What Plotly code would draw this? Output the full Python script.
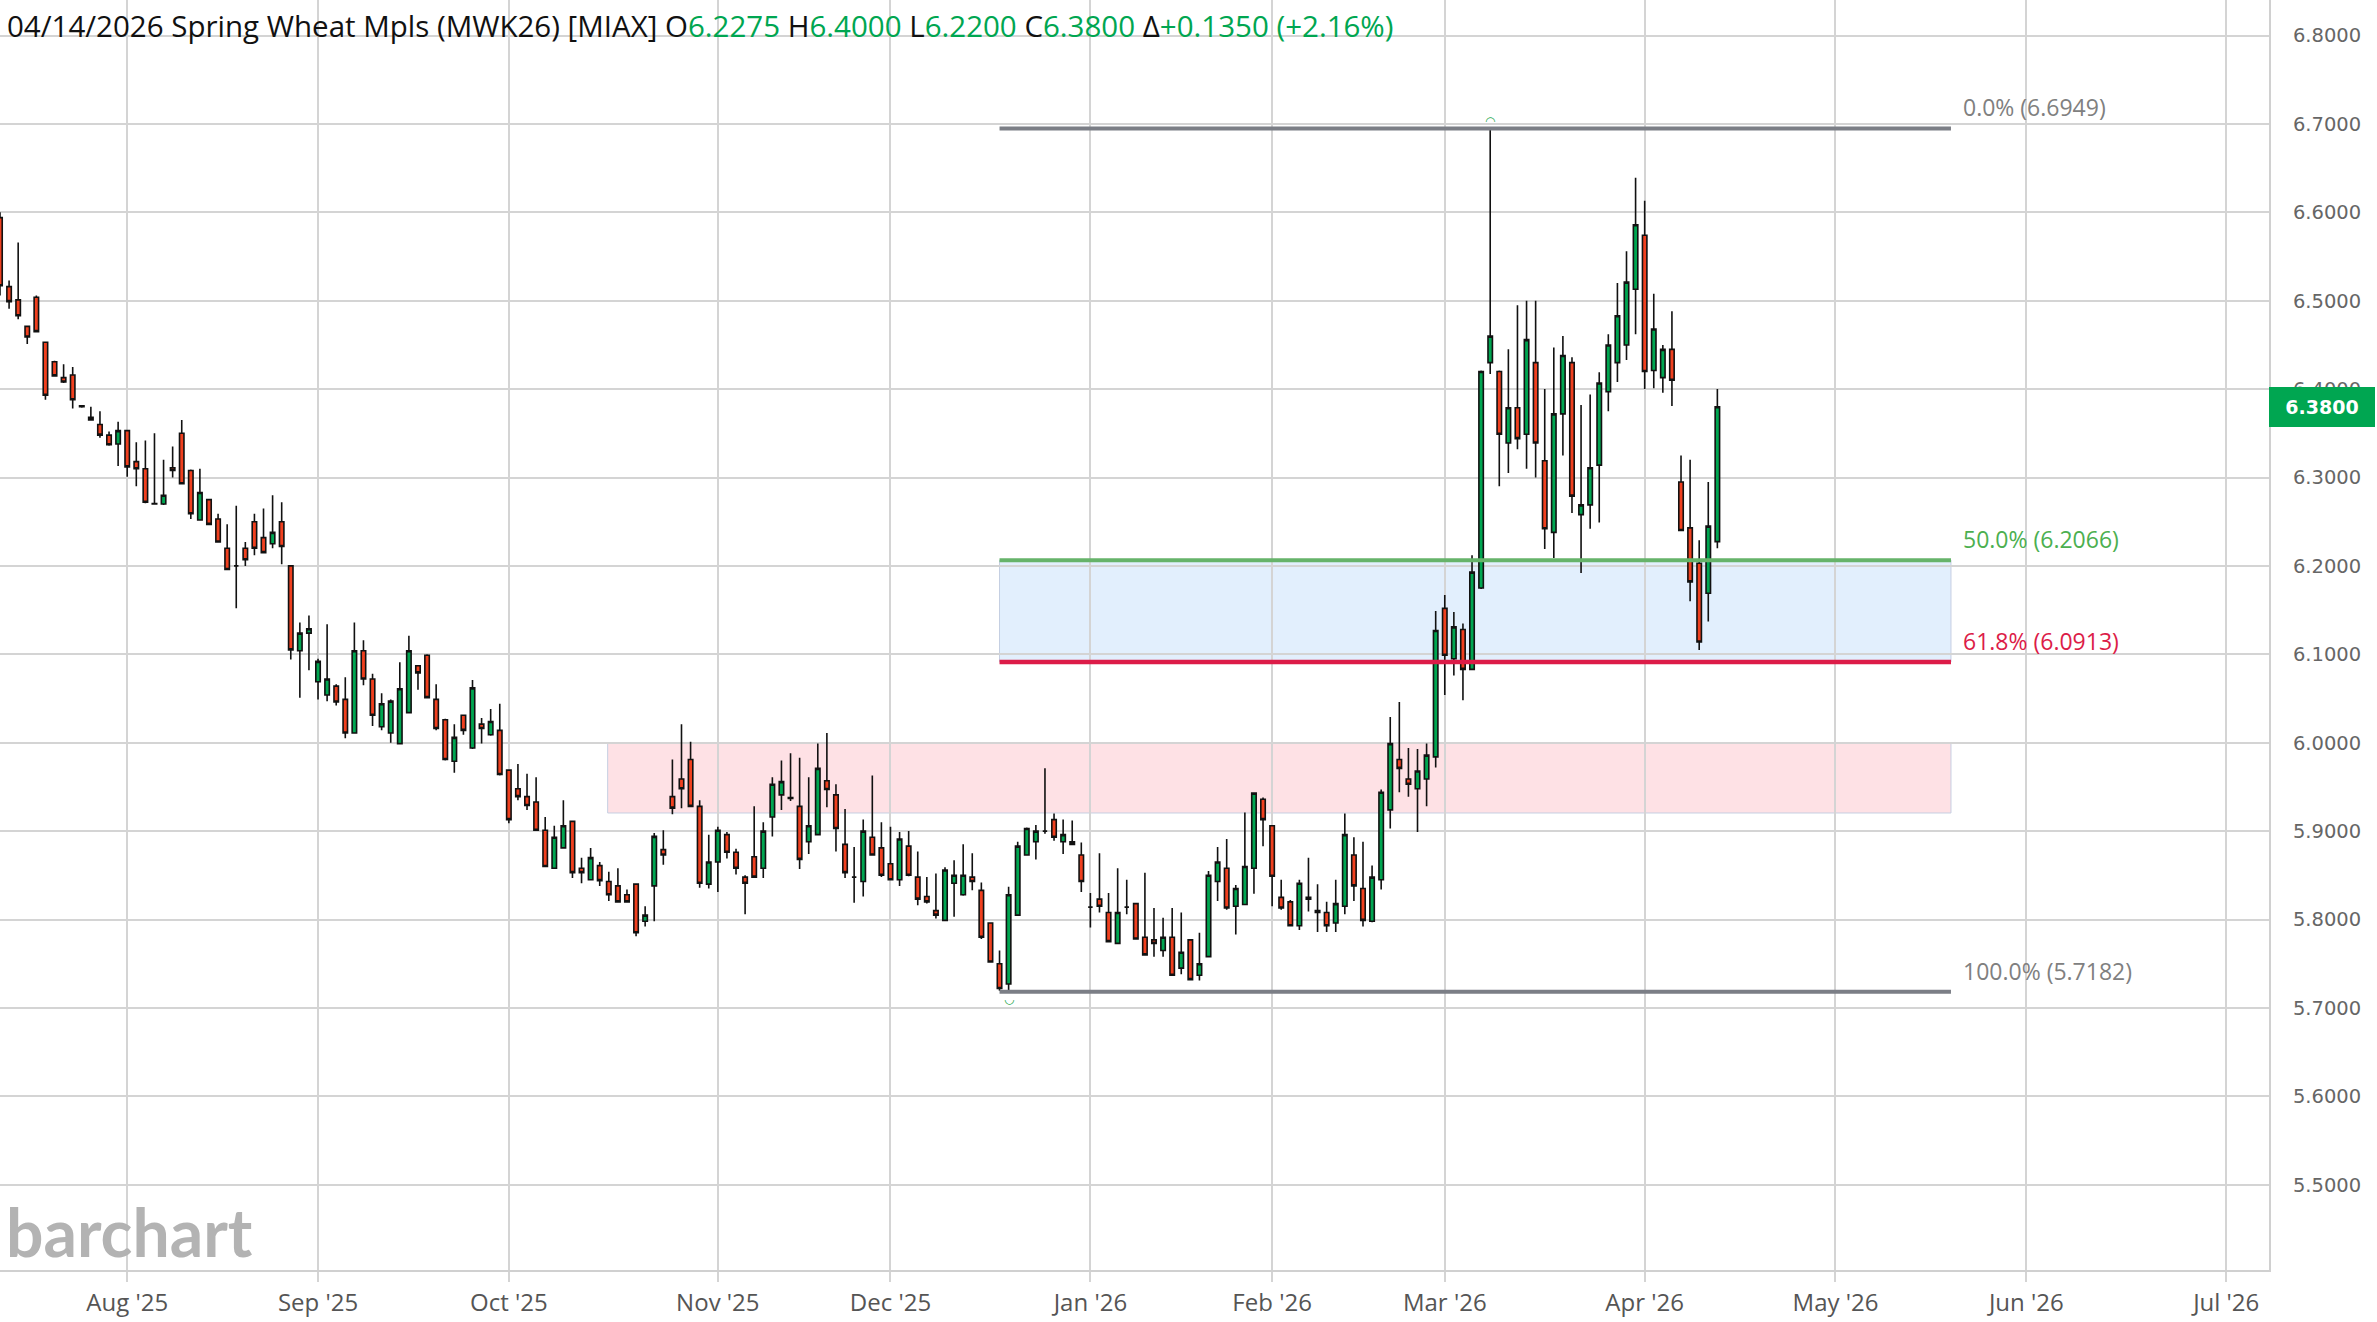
import plotly.graph_objects as go
import pandas as pd

# ---------------- data ----------------
holidays = ["2025-09-01", "2025-11-27", "2025-12-25", "2026-01-01",
            "2026-01-19", "2026-02-16", "2026-04-03"]
dates = pd.bdate_range("2025-07-14", "2026-04-14", freq="C", holidays=holidays)

opens = [
    6.594, 6.516, 6.501, 6.471, 6.504, 6.453, 6.431, 6.413, 6.416, 6.381, 6.368, 6.360, 6.348, 6.338,
    6.353, 6.318, 6.310, 6.2705, 6.270, 6.311, 6.350, 6.308, 6.252, 6.275, 6.253, 6.220, 6.200, 6.220,
    6.250, 6.232, 6.225, 6.250, 6.200, 6.104, 6.124,
    6.069, 6.054, 6.064, 6.049, 6.011, 6.104, 6.072, 6.018, 6.011, 5.999, 6.034, 6.087, 6.099, 6.049,
    6.026, 5.979, 6.031, 5.994, 6.021, 6.009, 6.014,
    5.969, 5.948, 5.939, 5.933, 5.901, 5.858, 5.881, 5.911, 5.858, 5.845, 5.861, 5.843, 5.838, 5.828,
    5.840, 5.798, 5.838, 5.879, 5.939, 5.959, 5.981, 5.928, 5.840,
    5.865, 5.896, 5.876, 5.848, 5.871, 5.858, 5.916, 5.941, 5.938, 5.928, 5.888, 5.896, 5.957, 5.941,
    5.885, 5.848, 5.843, 5.893, 5.881,
    5.863, 5.845, 5.883, 5.848, 5.826, 5.810, 5.799, 5.841, 5.828, 5.848, 5.833, 5.796, 5.750, 5.727,
    5.805, 5.873, 5.888, 5.900, 5.913, 5.888, 5.888, 5.873,
    5.814, 5.823, 5.808, 5.773, 5.814, 5.818, 5.780, 5.777, 5.765, 5.780, 5.745, 5.777, 5.737, 5.758,
    5.843, 5.858, 5.815, 5.817, 5.858, 5.936,
    5.906, 5.825, 5.820, 5.793, 5.825, 5.808, 5.808, 5.796, 5.815, 5.873, 5.835, 5.798, 5.845, 5.924,
    5.981, 5.959, 5.948, 5.959, 5.984,
    6.152, 6.095, 6.128, 6.083, 6.175, 6.430, 6.420, 6.339, 6.379, 6.349, 6.430, 6.319, 6.238, 6.372,
    6.430, 6.258, 6.269, 6.314, 6.397, 6.430, 6.450, 6.513,
    6.574, 6.421, 6.413, 6.445, 6.295, 6.243, 6.203, 6.169, 6.2275,
]
highs = [
    6.600, 6.523, 6.566, 6.472, 6.506, 6.454, 6.432, 6.428, 6.425, 6.382, 6.380, 6.375, 6.352, 6.363,
    6.354, 6.340, 6.342, 6.350, 6.320, 6.335, 6.365, 6.309, 6.310, 6.276, 6.259, 6.247, 6.268, 6.227,
    6.259, 6.265, 6.280, 6.272, 6.201, 6.136, 6.144,
    6.095, 6.134, 6.066, 6.074, 6.136, 6.116, 6.078, 6.056, 6.049, 6.091, 6.121, 6.088, 6.100, 6.066,
    6.027, 6.021, 6.032, 6.071, 6.028, 6.038, 6.044,
    5.970, 5.976, 5.965, 5.961, 5.916, 5.906, 5.935, 5.912, 5.870, 5.881, 5.865, 5.854, 5.858, 5.834,
    5.841, 5.815, 5.898, 5.901, 5.981, 6.021, 6.001, 5.935, 5.896,
    5.905, 5.899, 5.880, 5.850, 5.928, 5.910, 5.961, 5.980, 5.988, 5.983, 5.961, 5.999, 6.011, 5.953,
    5.925, 5.882, 5.913, 5.963, 5.910,
    5.905, 5.899, 5.900, 5.877, 5.848, 5.852, 5.859, 5.867, 5.885, 5.875, 5.842, 5.797, 5.765, 5.837,
    5.888, 5.904, 5.907, 5.971, 5.920, 5.913, 5.912, 5.887,
    5.830, 5.875, 5.830, 5.858, 5.845, 5.819, 5.853, 5.813, 5.802, 5.813, 5.808, 5.778, 5.785, 5.855,
    5.882, 5.891, 5.839, 5.921, 5.944, 5.938,
    5.907, 5.845, 5.822, 5.845, 5.870, 5.840, 5.820, 5.845, 5.920, 5.893, 5.888, 5.861, 5.947, 6.029,
    6.046, 5.994, 5.993, 5.999, 6.149,
    6.167, 6.148, 6.135, 6.212, 6.421, 6.6949, 6.421, 6.445, 6.495, 6.500, 6.500, 6.400, 6.447, 6.460,
    6.436, 6.382, 6.394, 6.419, 6.462, 6.520, 6.556, 6.639,
    6.613, 6.508, 6.450, 6.488, 6.325, 6.320, 6.229, 6.295, 6.400,
]
lows = [
    6.506, 6.491, 6.479, 6.451, 6.464, 6.388, 6.414, 6.407, 6.378, 6.379, 6.365, 6.345, 6.336, 6.313,
    6.301, 6.290, 6.271, 6.270, 6.269, 6.300, 6.293, 6.253, 6.251, 6.247, 6.227, 6.195, 6.152, 6.200,
    6.212, 6.214, 6.220, 6.202, 6.094, 6.051, 6.082,
    6.049, 6.047, 6.042, 6.005, 6.010, 6.065, 6.019, 6.014, 6.000, 5.998, 6.033, 6.060, 6.050, 6.014,
    5.980, 5.966, 6.009, 5.993, 5.999, 6.008, 5.963,
    5.909, 5.935, 5.924, 5.900, 5.859, 5.857, 5.880, 5.847, 5.841, 5.844, 5.838, 5.821, 5.819, 5.819,
    5.781, 5.792, 5.798, 5.862, 5.919, 5.926, 5.927, 5.836, 5.835,
    5.831, 5.869, 5.851, 5.806, 5.847, 5.847, 5.894, 5.924, 5.934, 5.857, 5.874, 5.895, 5.927, 5.877,
    5.847, 5.819, 5.826, 5.872, 5.848,
    5.844, 5.838, 5.849, 5.816, 5.818, 5.801, 5.798, 5.803, 5.827, 5.833, 5.778, 5.751, 5.7195, 5.7182,
    5.804, 5.872, 5.868, 5.897, 5.889, 5.874, 5.885, 5.831,
    5.791, 5.808, 5.774, 5.772, 5.806, 5.777, 5.759, 5.758, 5.758, 5.736, 5.738, 5.731, 5.731, 5.757,
    5.821, 5.811, 5.783, 5.816, 5.829, 5.883,
    5.815, 5.811, 5.792, 5.788, 5.809, 5.786, 5.786, 5.786, 5.806, 5.821, 5.792, 5.797, 5.834, 5.903,
    5.944, 5.939, 5.899, 5.928, 5.972,
    6.054, 6.076, 6.048, 6.082, 6.174, 6.417, 6.290, 6.305, 6.332, 6.310, 6.300, 6.219, 6.209, 6.325,
    6.260, 6.192, 6.242, 6.249, 6.375, 6.408, 6.433, 6.462,
    6.400, 6.401, 6.396, 6.381, 6.240, 6.160, 6.105, 6.137, 6.220,
]
closes = [
    6.517, 6.499, 6.483, 6.459, 6.465, 6.393, 6.415, 6.408, 6.388, 6.380, 6.365, 6.348, 6.337, 6.353,
    6.312, 6.310, 6.272, 6.270, 6.280, 6.308, 6.293, 6.259, 6.283, 6.247, 6.227, 6.196, 6.200, 6.207,
    6.220, 6.215, 6.238, 6.222, 6.105, 6.124, 6.129,
    6.092, 6.072, 6.046, 6.011, 6.104, 6.072, 6.031, 6.044, 6.047, 6.061, 6.104, 6.079, 6.051, 6.016,
    5.981, 6.006, 6.014, 6.062, 6.016, 6.024, 5.964,
    5.913, 5.939, 5.929, 5.901, 5.860, 5.893, 5.906, 5.853, 5.853, 5.870, 5.844, 5.828, 5.820, 5.820,
    5.785, 5.805, 5.894, 5.873, 5.926, 5.948, 5.928, 5.841, 5.865,
    5.901, 5.876, 5.858, 5.841, 5.848, 5.900, 5.953, 5.956, 5.937, 5.868, 5.906, 5.971, 5.947, 5.903,
    5.853, 5.848, 5.900, 5.873, 5.850,
    5.845, 5.891, 5.850, 5.823, 5.820, 5.805, 5.856, 5.850, 5.850, 5.843, 5.780, 5.752, 5.722, 5.828,
    5.883, 5.903, 5.900, 5.900, 5.893, 5.896, 5.885, 5.843,
    5.814, 5.815, 5.775, 5.808, 5.814, 5.778, 5.760, 5.773, 5.780, 5.737, 5.763, 5.732, 5.750, 5.850,
    5.865, 5.813, 5.835, 5.860, 5.943, 5.913,
    5.849, 5.813, 5.793, 5.841, 5.823, 5.810, 5.793, 5.818, 5.896, 5.838, 5.799, 5.848, 5.944, 5.999,
    5.971, 5.953, 5.968, 5.986, 6.127,
    6.099, 6.131, 6.083, 6.193, 6.420, 6.460, 6.349, 6.379, 6.344, 6.456, 6.339, 6.242, 6.372, 6.438,
    6.279, 6.269, 6.311, 6.407, 6.450, 6.483, 6.521, 6.586,
    6.420, 6.468, 6.445, 6.410, 6.240, 6.182, 6.114, 6.245, 6.380,
]
assert len(dates) == len(opens) == len(highs) == len(lows) == len(closes), (
    len(dates), len(opens), len(highs), len(lows), len(closes))

month_ticks = ["2025-08-01", "2025-09-02", "2025-10-01", "2025-11-03", "2025-12-01",
               "2026-01-02", "2026-02-02", "2026-03-02", "2026-04-01", "2026-05-01",
               "2026-06-01", "2026-07-01"]
month_labels = ["Aug '25", "Sep '25", "Oct '25", "Nov '25", "Dec '25", "Jan '26",
                "Feb '26", "Mar '26", "Apr '26", "May '26", "Jun '26", "Jul '26"]

# drawing anchors (tool annotations)
fib_start = "2025-12-17"
fib_end = "2026-05-19 17:00"
zone_start = "2025-10-15 21:00"
zone_top = 6.0
zone_bottom = 5.9205
x_view = ["2025-07-14", "2026-07-07 17:00"]
y_view = [5.4035, 6.8402]

GREEN = "#00a651"
RED = "#f0401f"

# ---------------- figure ----------------
fig = go.Figure()
fig.add_trace(go.Candlestick(
    x=dates, open=opens, high=highs, low=lows, close=closes,
    increasing=dict(fillcolor=GREEN, line=dict(color="#111111", width=1.6)),
    decreasing=dict(fillcolor=RED, line=dict(color="#111111", width=1.6)),
    whiskerwidth=0, showlegend=False, hoverinfo="skip",
))

hi = max(highs)
lo = min(lows)
hi_date = dates[highs.index(hi)]
lo_date = dates[lows.index(lo)]
rng = hi - lo
fibs = [
    ("0.0%", hi, "#7b7e86", "#808080", 4),
    ("50.0%", hi - 0.5 * rng, "#66b36a", "#4caf50", 4),
    ("61.8%", hi - 0.618 * rng, "#dc1c48", "#dc1c48", 4.5),
    ("100.0%", lo, "#7b7e86", "#808080", 4),
]

shapes = []
shapes.append(dict(type="rect", xref="x", yref="y", x0=zone_start, x1=fib_end,
                   y0=zone_bottom, y1=zone_top, fillcolor="rgba(253,205,212,0.6)",
                   line=dict(color="#c5cfe2", width=1), layer="below"))
shapes.append(dict(type="rect", xref="x", yref="y", x0=fib_start, x1=fib_end,
                   y0=fibs[2][1], y1=fibs[1][1], fillcolor="rgba(214,232,252,0.7)",
                   line=dict(color="#c5cfe2", width=1), layer="below"))
annotations = []
for label, lvl, lcol, tcol, w in fibs:
    shapes.append(dict(type="line", xref="x", yref="y", x0=fib_start, x1=fib_end,
                       y0=lvl, y1=lvl, line=dict(color=lcol, width=w), layer="above"))
    annotations.append(dict(x=fib_end, y=lvl, xref="x", yref="y", xanchor="left",
                            yanchor="bottom", xshift=10, yshift=3, showarrow=False,
                            text=f"{label} ({round(lvl + 1e-9, 4):.4f})",
                            font=dict(family="Open Sans", size=23, color=tcol)))

annotations.append(dict(x=hi_date, y=hi, xref="x", yref="y", showarrow=False,
                        yanchor="bottom", yshift=-2, text="◠",
                        font=dict(family="DejaVu Sans", size=12, color="#1aa64a")))
annotations.append(dict(x=lo_date, y=lo, xref="x", yref="y", showarrow=False,
                        yanchor="top", yshift=2, text="◡",
                        font=dict(family="DejaVu Sans", size=12, color="#1aa64a")))

o, h, l, c = opens[-1], highs[-1], lows[-1], closes[-1]
chg = c - closes[-2]
pct = chg / closes[-2] * 100
def g(s):
    return f"<span style='color:{GREEN}'>{s}</span>"
header = (f"{dates[-1].strftime('%m/%d/%Y')} Spring Wheat Mpls (MWK26) [MIAX] "
          f"O{g(f'{o:.4f}')} H{g(f'{h:.4f}')} L{g(f'{l:.4f}')} C{g(f'{c:.4f}')} "
          f"Δ{g(f'{chg:+.4f} ({pct:+.2f}%)')}")
annotations.append(dict(x=0, y=1, xref="paper", yref="paper", xanchor="left",
                        yanchor="top", xshift=5, yshift=-3, showarrow=False, text=header,
                        font=dict(family="Open Sans", size=29.5, color="#111111")))

annotations.append(dict(x=1, y=c, xref="paper", yref="y", xanchor="left",
                        yanchor="middle", showarrow=False, text=f"<b>{c:.4f}</b>",
                        bgcolor=GREEN, bordercolor=GREEN, width=104, height=38,
                        borderpad=0, font=dict(family="DejaVu Sans", size=19, color="white")))

annotations.append(dict(x=0, y=0.03, xref="paper", yref="paper", xanchor="left",
                        yanchor="middle", xshift=4, showarrow=False, text="<b>barchart</b>",
                        font=dict(family="Lato", size=66, color="#b3b3b3")))

fig.update_layout(
    width=2377, height=1322,
    margin=dict(l=0, r=108, t=0, b=52),
    paper_bgcolor="white", plot_bgcolor="white",
    showlegend=False, shapes=shapes, annotations=annotations,
    xaxis_rangeslider_visible=False,
)
fig.update_xaxes(
    type="date", range=x_view,
    rangebreaks=[dict(bounds=["sat", "mon"]), dict(values=holidays)],
    tickmode="array", tickvals=month_ticks, ticktext=month_labels,
    showgrid=True, gridcolor="#d4d4d4", gridwidth=1.5,
    ticks="outside", ticklen=10, tickcolor="#d4d4d4", tickwidth=1.5,
    tickfont=dict(family="Open Sans", size=24, color="#555555"),
    showline=True, linecolor="#d0d0d0", linewidth=2, zeroline=False,
)
fig.update_yaxes(
    side="right", range=y_view, tick0=5.5, dtick=0.1, tickformat=".4f",
    showgrid=True, gridcolor="#d4d4d4", gridwidth=1.5,
    showline=True, linecolor="#d0d0d0", linewidth=2, zeroline=False,
    ticks="outside", ticklen=18, tickcolor="rgba(0,0,0,0)",
    tickfont=dict(family="DejaVu Sans", size=19.5, color="#666666"),
)

fig.write_html(
    "out.html",
    config={"displayModeBar": False},
    post_script="document.body.style.margin='0px';document.body.style.padding='0px';"
                "document.body.style.overflow='hidden';",
)
